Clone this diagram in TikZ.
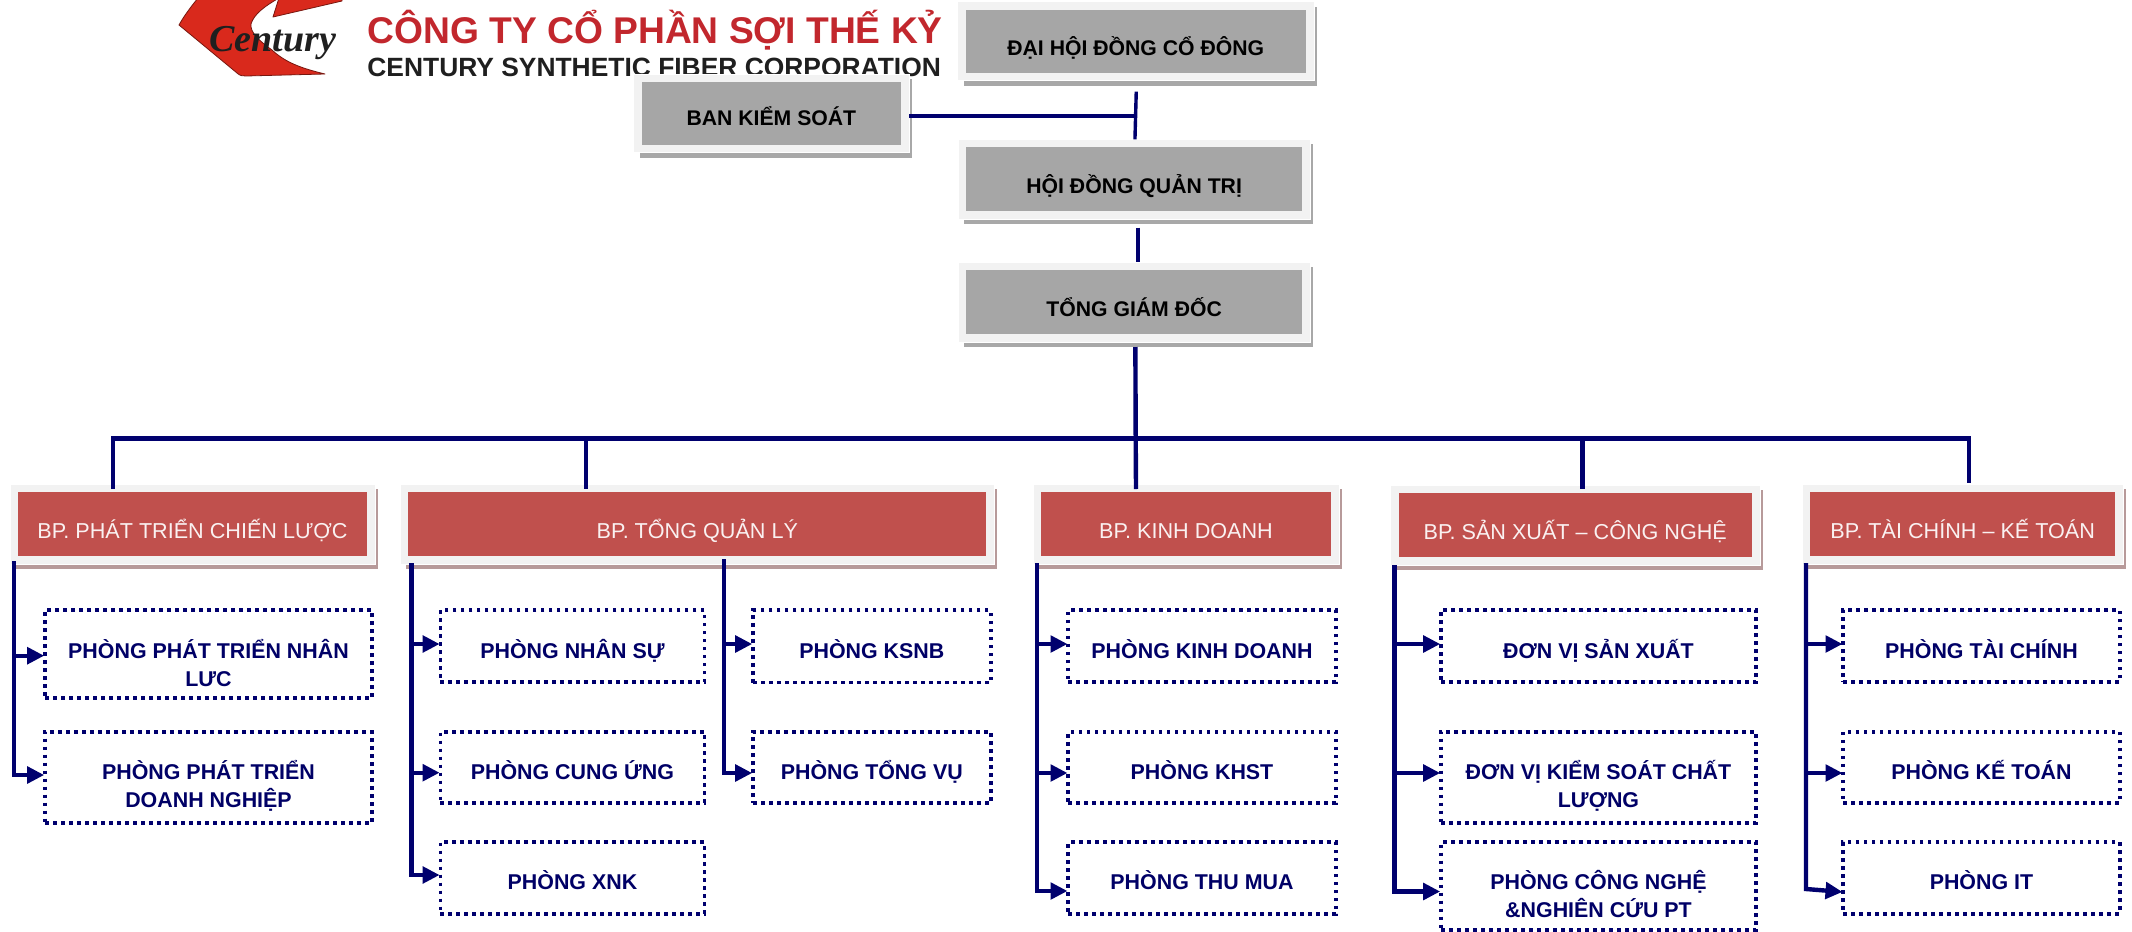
\documentclass[tikz,border=0pt]{standalone}
\usepackage{fontspec}
\setmainfont{Liberation Sans}
\newfontfamily\logoserif{Liberation Serif}
\usetikzlibrary{arrows.meta,calc}
\definecolor{navyline}{HTML}{00006E}
\definecolor{navytext}{HTML}{000066}
\definecolor{panelred}{HTML}{C0504D}
\definecolor{panelgray}{HTML}{A6A6A6}
\definecolor{paneledge}{HTML}{F2F2F2}
\definecolor{shadered}{HTML}{B79A9A}
\definecolor{shadegray}{HTML}{A8A8A8}
\definecolor{logored}{HTML}{D9291C}
\definecolor{logotitle}{HTML}{C2272D}
\definecolor{logodark}{HTML}{1F1F1F}
\tikzset{
  conn/.style={draw=navyline,line width=2.2pt,line join=miter},
  connthin/.style={conn,line width=1.7pt},
  arrowed/.style={conn,-{Triangle[length=8.5pt,width=8.2pt]},shorten >=0.4pt},
  edgepanel/.style={rectangle,fill=paneledge,draw=white,line width=0.5pt,inner sep=0pt,outer sep=0pt},
  innerpanel/.style={rectangle,inner sep=0pt,outer sep=0pt},
  graypanel/.style={innerpanel,fill=panelgray,text=black,font=\fontsize{10.6pt}{14pt}\selectfont\bfseries},
  redpanel/.style={innerpanel,fill=panelred,text=white!92!panelred,font=\fontsize{10.8pt}{14pt}\selectfont},
  dottedbox/.style={rectangle,draw=navyline,line width=1.9pt,dash pattern=on 1.8pt off 2.2pt,inner sep=0pt,outer sep=0pt,text=navytext,font=\fontsize{10.7pt}{14pt}\selectfont\bfseries},
}
% #1 style, #2 shadow colour, #3 name, #4-#7 outer box, #8 baseline, #9 text
\newcommand{\panelbox}[9]{%
  \fill[#2] (#4+6,#5+5) rectangle (#6+3,#7+5);
  \pgfmathsetlengthmacro{\pxw}{(#6-#4-16)*0.5pt}%
  \pgfmathsetlengthmacro{\pxh}{(#7-#5-16)*0.5pt}%
  \pgfmathsetlengthmacro{\owd}{(#6-#4)*0.5pt}%
  \pgfmathsetlengthmacro{\oht}{(#7-#5)*0.5pt}%
  \pgfmathsetlengthmacro{\off}{(#8-#5-8)*0.5pt-9.8pt}%
  \node[edgepanel,minimum width=\owd,minimum height=\oht] (#3) at ({(#4+#6)/2},{(#5+#7)/2}) {};
  \node[#1,minimum width=\pxw,minimum height=\pxh] (#3-in) at ({(#4+#6)/2},{(#5+#7)/2})
    {\parbox[c][\pxh][t]{\pxw}{\centering\vspace*{\off}\strut #9}};
}
% #1 name, #2-#5 box, #6 baseline of first line, #7 text
\newcommand{\deptbox}[7]{%
  \pgfmathsetlengthmacro{\pxw}{(#4-#2)*0.5pt}%
  \pgfmathsetlengthmacro{\pxh}{(#5-#3)*0.5pt}%
  \pgfmathsetlengthmacro{\off}{(#6-#3)*0.5pt-9.8pt}%
  \node[dottedbox,minimum width=\pxw,minimum height=\pxh] (#1) at ({(#2+#4)/2},{(#3+#5)/2})
    {\parbox[c][\pxh][t]{\pxw}{\centering\vspace*{\off}\strut #7}};
}
\begin{document}
\begin{tikzpicture}[x=0.5pt,y=-0.5pt]
\useasboundingbox (0,0) rectangle (2132,932);
% logo
\begin{scope}
\clip (0,0) rectangle (2132,932);
\fill[logored,draw=logored!55!black,line width=0.4pt,line join=round]
  (198,-2) .. controls (190,8) and (184,16) .. (179,25)
  -- (237,73) .. controls (240,76) and (243,76) .. (246,76)
  -- (325,74) .. controls (300,68) and (285,62) .. (272,50)
  .. controls (258,40) and (250,32) .. (251,24)
  .. controls (254,14) and (265,6) .. (279,-2) -- cycle;
\fill[logored,draw=logored!55!black,line width=0.4pt,line join=round]
  (279,-2) -- (273,17) -- (342,1) -- (342,-2) -- cycle;
\end{scope}
\node[anchor=base west,inner sep=0pt,text=logodark] (logomark) at (209,51.5)
  {\logoserif\fontsize{19pt}{19pt}\selectfont\bfseries\itshape Century};
\node[anchor=base west,inner sep=0pt,text=logotitle] (logotitle) at (367,43.3)
  {\fontsize{18.6pt}{20pt}\selectfont\bfseries CÔNG TY CỔ PHẦN SỢI THẾ KỶ};
\node[anchor=base west,inner sep=0pt,text=logodark] (logosub) at (367,76)
  {\fontsize{13.2pt}{15pt}\selectfont\bfseries CENTURY SYNTHETIC FIBER CORPORATION};
% top panels
\panelbox{graypanel}{shadegray}{dhdcd}{957.5}{1.7}{1314}{80.7}{55}{ĐẠI HỘI ĐỒNG CỔ ĐÔNG}
\panelbox{graypanel}{shadegray}{bks}{633.8}{74}{909}{152.7}{125.7}{BAN KIỂM SOÁT}
\panelbox{graypanel}{shadegray}{hdqt}{958.3}{139.3}{1310}{219.3}{193.3}{HỘI ĐỒNG QUẢN TRỊ}
\panelbox{graypanel}{shadegray}{tgd}{958.3}{262.3}{1310}{342}{316}{TỔNG GIÁM ĐỐC}
% division panels
\panelbox{redpanel}{shadered}{bpa}{10}{484}{375}{564}{538}{BP. PHÁT TRIỂN CHIẾN LƯỢC}
\panelbox{redpanel}{shadered}{bpb}{400.4}{484}{994.3}{564}{538}{BP. TỔNG QUẢN LÝ}
\panelbox{redpanel}{shadered}{bpc}{1033}{484}{1339}{564}{538}{BP. KINH DOANH}
\panelbox{redpanel}{shadered}{bpd}{1390.5}{485}{1760}{565}{539.5}{BP. SẢN XUẤT – CÔNG NGHỆ}
\panelbox{redpanel}{shadered}{bpe}{1802}{484}{2123.4}{564}{538}{BP. TÀI CHÍNH – KẾ TOÁN}
% departments
\deptbox{pnl}{45}{610}{372}{698}{658}{PHÒNG PHÁT TRIỂN NHÂN\\LƯC}
\deptbox{pdn}{45}{731.7}{372}{822.7}{779}{PHÒNG PHÁT TRIỂN\\DOANH NGHIỆP}
\deptbox{pns}{440.4}{610.3}{704.5}{682}{658}{PHÒNG NHÂN SỰ}
\deptbox{pcu}{440.4}{731.7}{704.5}{802.7}{779}{PHÒNG CUNG ỨNG}
\deptbox{pxnk}{440.4}{842.3}{704.5}{913.7}{889}{PHÒNG XNK}
\deptbox{pks}{753}{610.3}{990.6}{682.5}{658}{PHÒNG KSNB}
\deptbox{ptv}{753}{731.7}{990.6}{803}{779}{PHÒNG TỔNG VỤ}
\deptbox{pkd}{1068.3}{610.3}{1335.7}{682}{658}{PHÒNG KINH DOANH}
\deptbox{pkh}{1068.3}{731.7}{1335.7}{802.7}{779}{PHÒNG KHST}
\deptbox{ptm}{1068.3}{842.3}{1335.7}{913.7}{889}{PHÒNG THU MUA}
\deptbox{dsx}{1441}{610}{1756}{682}{658}{ĐƠN VỊ SẢN XUẤT}
\deptbox{dks}{1441}{731.7}{1756}{822.7}{779}{ĐƠN VỊ KIỂM SOÁT CHẤT\\LƯỢNG}
\deptbox{pcn}{1441}{842.3}{1756}{930}{889}{PHÒNG CÔNG NGHỆ\\\&NGHIÊN CỨU PT}
\deptbox{ptc}{1843.3}{610}{2119.6}{682}{658}{PHÒNG TÀI CHÍNH}
\deptbox{pkt}{1843.3}{731.7}{2119.6}{803}{779}{PHÒNG KẾ TOÁN}
\deptbox{pit}{1843.3}{842.3}{2119.6}{913.7}{889}{PHÒNG IT}
% junctions
\coordinate (bus) at (1135.7,438.5);
\coordinate (dropa) at (113,489);
\coordinate (dropb) at (586,489);
\coordinate (dropc) at (1136,489);
\coordinate (dropd) at (1582.4,489);
\coordinate (drope) at (1969,483);
\coordinate (bkjoin) at (1135,115.7);
\coordinate (sta) at (14,561);
\coordinate (stb) at (411.4,563);
\coordinate (stbb) at (724,559);
\coordinate (stc) at (1037,563);
\coordinate (std) at (1394.4,565);
\coordinate (ste) at (1806,563);
% top connectors
\draw[connthin,shorten <=5.5pt] ([xshift=0.4pt]dhdcd.south) -- ([xshift=0.4pt]hdqt.north);
\draw[conn] (bks.east |- bkjoin) -- (bkjoin);
\draw[conn,shorten <=4.2pt] ([xshift=2pt]hdqt.south) -- ([xshift=2pt]tgd.north);
\draw[conn,shorten <=2.5pt] ([xshift=0.6pt]tgd.south) -- (bus) -- (dropc);
\draw[conn] (dropa) |- (bus) -| (drope);
\draw[conn] (bus -| dropb) -- (dropb);
\draw[conn] (bus -| dropd) -- (dropd);
% department connectors
\draw[arrowed] (sta |- 0,655.7) -- (pnl.west |- 0,655.7);
\draw[arrowed] (sta) |- (pdn.west |- 0,775);
\draw[arrowed] (stb |- 0,644) -- (pns.west |- 0,644);
\draw[arrowed] (stb |- 0,772.7) -- (pcu.west |- 0,772.7);
\draw[arrowed] (stb) |- (pxnk.west |- 0,875);
\draw[arrowed] (stbb |- 0,644) -- (pks.west |- 0,644);
\draw[arrowed] (stbb) |- (ptv.west |- 0,773);
\draw[arrowed] (stc |- 0,644) -- (pkd.west |- 0,644);
\draw[arrowed] (stc |- 0,773) -- (pkh.west |- 0,773);
\draw[arrowed] (stc) |- (ptm.west |- 0,891);
\draw[arrowed] (std |- 0,644) -- (dsx.west |- 0,644);
\draw[arrowed] (std |- 0,773) -- (dks.west |- 0,773);
\draw[arrowed] (std) |- (pcn.west |- 0,891.5);
\draw[arrowed] (ste |- 0,644) -- (ptc.west |- 0,644);
\draw[arrowed] (ste |- 0,773) -- (pkt.west |- 0,773);
\draw[arrowed] (ste) -- (ste |- 0,889) -- (pit.west |- 0,892);
\end{tikzpicture}
\end{document}
